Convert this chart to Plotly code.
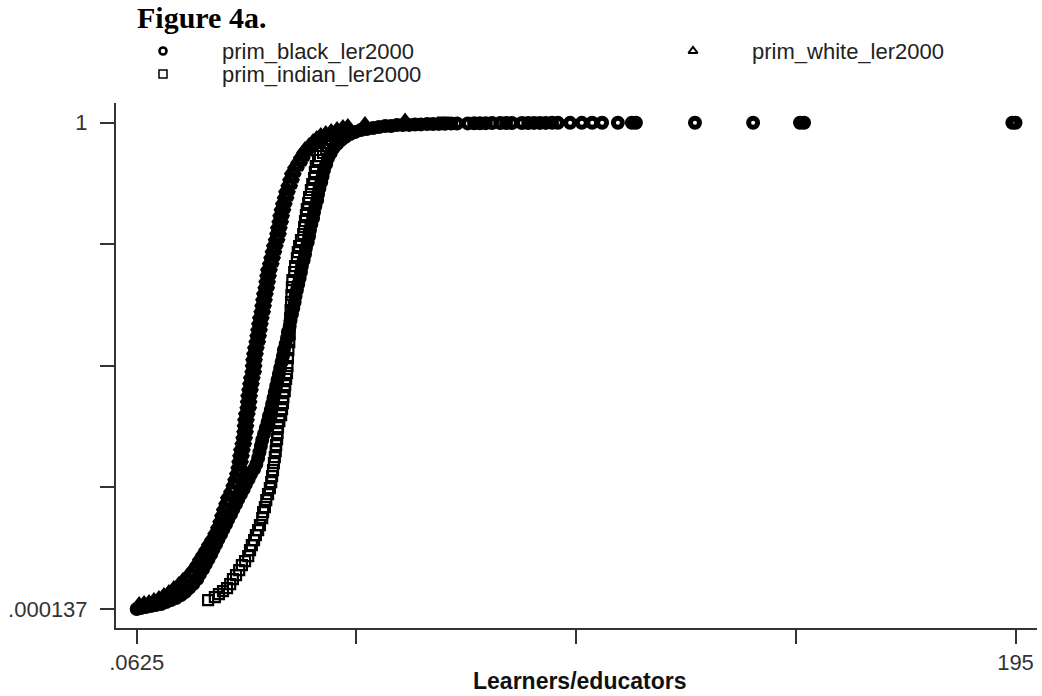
import plotly.graph_objects as go

# Cumulative share of schools (y) against learners per educator (x), 2000 primary schools
black_x = [0.0625, 1.0, 2.1, 3.2, 4.3, 5.5, 6.6, 7.7, 8.8, 9.9,
           10.8, 11.7, 12.6, 13.5, 14.1, 14.8, 15.4, 16.0, 16.6, 17.1,
           17.7, 18.2, 18.8, 19.3, 19.9, 20.4, 21.0, 21.5, 22.1, 22.6,
           23.2, 23.8, 24.3, 24.9, 25.4, 26.1, 26.6, 27.0, 27.3, 27.6,
           27.9, 28.3, 28.7, 29.1, 29.4, 29.8, 30.1, 30.4, 30.7, 31.0,
           31.3, 31.6, 31.9, 32.2, 32.5, 32.7, 33.1, 33.4, 33.6, 34.0,
           34.2, 34.5, 34.8, 35.1, 35.3, 35.6, 35.9, 36.2, 36.5, 36.7,
           37.1, 37.4, 37.6, 38.0, 38.3, 38.5, 38.8, 39.2, 39.4, 39.7,
           40.1, 40.3, 40.6, 41.0, 41.3, 41.6, 42.1, 42.5, 43.1, 43.7,
           44.5, 45.4, 46.3, 47.4, 48.5, 49.8, 51.1, 52.5, 53.8, 55.2,
           56.5, 57.8, 59.1, 60.5, 61.8, 63.1, 64.5, 65.8, 67.1, 68.4,
           69.8, 71.1, 73.5, 74.9, 76.2, 77.5, 78.9, 80.7, 82.0, 83.3,
           85.5, 86.9, 88.2, 89.5, 90.8, 92.2, 93.5, 96.2, 98.8, 101.1,
           103.3, 106.8, 109.9, 110.8, 123.9, 136.8, 147.2, 148.1, 194.3, 195.0]
black_y = [0.000137, .0021, .0041, .0062, .0082, .0103, .0144, .0185, .0226, .0288,
           .0350, .0432, .0514, .0617, .0720, .0823, .0925, .1028, .1131, .1234,
           .1337, .1439, .1542, .1645, .1748, .1851, .1954, .2056, .2159, .2262,
           .2365, .2468, .2570, .2673, .2776, .2879, .2982, .3105, .3228, .3352,
           .3475, .3599, .3722, .3845, .3969, .4092, .4216, .4339, .4462, .4586,
           .4709, .4832, .4956, .5079, .5203, .5326, .5449, .5573, .5696, .5820,
           .5943, .6066, .6190, .6313, .6436, .6560, .6683, .6807, .6930, .7053,
           .7177, .7300, .7423, .7547, .7670, .7794, .7917, .8040, .8164, .8287,
           .8410, .8534, .8657, .8781, .8904, .9027, .9151, .9274, .9377, .9480,
           .9562, .9644, .9706, .9767, .9809, .9850, .9870, .9890, .9911, .9931,
           .9933, .9951, .9953, .9955, .9963, .9965, .9972, .9974, .9975, .9977,
           .9983, .9984, .9986, .9987, .9990, .9991, .9992, .9993, .99935, .9994,
           .99945, .9995, .99955, .9996, .99962, .99965, .99967, .9997, .99972, .99975,
           .99978, .9998, .99984, .99986, .9999, .99993, .99995, .99997, .99999, 1.0]

white_x = [0.6, 1.7, 2.8, 3.9, 5.0, 6.1, 7.2, 8.3, 9.4, 10.3,
           11.2, 12.1, 13.0, 13.7, 14.3, 15.0, 15.7, 16.3, 17.0, 17.7,
           18.3, 18.8, 19.2, 19.6, 20.1, 20.5, 21.2, 21.7, 22.1, 22.5,
           22.8, 23.0, 23.2, 23.4, 23.7, 23.9, 24.1, 24.2, 24.3, 24.5,
           24.8, 24.9, 25.0, 25.2, 25.4, 25.6, 25.9, 26.0, 26.1, 26.3,
           26.5, 26.8, 27.0, 27.2, 27.4, 27.6, 27.9, 28.1, 28.3, 28.5,
           28.8, 29.0, 29.2, 29.4, 29.8, 30.1, 30.4, 30.7, 31.1, 31.4,
           31.6, 31.9, 32.1, 32.4, 32.7, 33.1, 33.4, 33.9, 34.3, 34.7,
           35.4, 36.1, 36.7, 37.4, 38.3, 39.2, 40.0, 40.9, 42.0, 43.2,
           44.5, 45.8, 46.9, 50.7, 59.6]
white_y = [.0062, .0082, .0103, .0144, .0185, .0247, .0308, .0391, .0473, .0555,
           .0637, .0740, .0843, .0946, .1049, .1152, .1254, .1357, .1460, .1583,
           .1707, .1830, .1954, .2077, .2200, .2324, .2447, .2570, .2694, .2817,
           .2941, .3064, .3187, .3311, .3434, .3557, .3681, .3804, .3927, .4051,
           .4174, .4298, .4421, .4544, .4668, .4791, .4915, .5038, .5161, .5285,
           .5408, .5531, .5655, .5778, .5901, .6025, .6148, .6272, .6395, .6518,
           .6642, .6765, .6889, .7012, .7135, .7259, .7382, .7506, .7629, .7752,
           .7876, .7999, .8122, .8246, .8369, .8493, .8616, .8739, .8863, .8986,
           .9109, .9212, .9315, .9418, .9500, .9582, .9644, .9706, .9747, .9788,
           .9829, .9870, .9890, .9931, 1.0]

indian_x = [15.9, 17.4, 18.3, 19.2, 20.1, 20.8, 21.4, 22.1, 22.8, 23.4,
            24.1, 24.8, 25.2, 25.6, 26.1, 26.5, 27.0, 27.4, 27.9, 28.1,
            28.5, 28.8, 29.2, 29.6, 29.9, 30.1, 30.3, 30.5, 30.7, 30.9,
            31.0, 31.2, 31.3, 31.4, 31.7, 32.1, 32.3, 32.5, 32.6, 32.9,
            33.0, 33.2, 33.4, 33.5, 33.6, 33.7, 33.9, 34.0, 34.0, 34.1,
            34.2, 34.3, 34.4, 34.5, 34.6, 35.0, 35.2, 35.6, 35.8, 36.1,
            36.5, 37.0, 37.2, 37.4, 37.6, 37.8, 38.1, 38.3, 38.7, 39.0,
            39.4, 39.6, 39.8, 40.3, 40.7, 41.4, 42.1, 42.5, 42.9, 43.4,
            44.1, 44.5, 45.2, 68.0]
indian_y = [.0185, .0247, .0308, .0370, .0432, .0514, .0617, .0699, .0802, .0905,
            .0987, .1090, .1213, .1316, .1419, .1522, .1625, .1727, .1871, .1995,
            .2097, .2241, .2365, .2488, .2612, .2735, .2858, .3002, .3126, .3249,
            .3372, .3496, .3619, .3743, .3866, .3989, .4113, .4236, .4359, .4483,
            .4606, .4730, .4853, .4997, .5161, .5326, .5490, .5655, .5819, .5984,
            .6148, .6313, .6457, .6621, .6765, .6930, .7053, .7218, .7341, .7465,
            .7588, .7711, .7855, .7979, .8102, .8225, .8349, .8472, .8616, .8739,
            .8863, .8986, .9109, .9233, .9315, .9377, .9459, .9521, .9582, .9644,
            .9706, .9767, .9829, 1.0]

series_names = ["prim_black_ler2000", "prim_white_ler2000", "prim_indian_ler2000"]

x_tick_vals = [0.0625, 48.796875, 97.53125, 146.265625, 195.0]
x_tick_text = [".0625", "", "", "", "195"]
y_tick_vals = [0.000137, 0.250103, 0.500068, 0.750034, 1.0]
y_tick_text = [".000137", "", "", "", "1"]

AXIS_COLOR = "#333333"
SANS = "Liberation Sans, Arial, sans-serif"

# Plot symbols: heavy outlines so dense runs merge into solid bands
black_marker = dict(symbol="circle-open", size=9, color="black",
                    line=dict(width=5, color="black"))
white_marker = dict(symbol="triangle-up-open", size=12, color="black",
                    line=dict(width=5, color="black"))
indian_marker = dict(symbol="square-open", size=10, color="black",
                     line=dict(width=2.2, color="black"))

# Smaller versions of the same symbols for the key
key_markers = [
    dict(symbol="circle-open", size=7, color="black", line=dict(width=2.6, color="black")),
    dict(symbol="triangle-up-open", size=8, color="black", line=dict(width=2, color="black")),
    dict(symbol="square-open", size=8, color="black", line=dict(width=1.5, color="black")),
]

fig = go.Figure()
fig.add_trace(go.Scatter(x=black_x, y=black_y, mode="markers", name=series_names[0],
                         marker=black_marker, showlegend=False))
fig.add_trace(go.Scatter(x=white_x, y=white_y, mode="markers", name=series_names[1],
                         marker=white_marker, showlegend=False))
fig.add_trace(go.Scatter(x=indian_x, y=indian_y, mode="markers", name=series_names[2],
                         marker=indian_marker, showlegend=False))

# Key above the plot: two columns, drawn on a helper axis pair measured in pixels
key_x = [163, 693, 163]
key_y = [51, 51, 74]
for kx, ky, km, nm in zip(key_x, key_y, key_markers, series_names):
    fig.add_trace(go.Scatter(x=[kx], y=[ky], mode="markers", marker=km,
                             xaxis="x2", yaxis="y2", showlegend=False,
                             cliponaxis=False, hoverinfo="skip"))
    fig.add_annotation(x=kx + 57, y=ky, xref="x2", yref="y2", text=nm,
                       showarrow=False, xanchor="left", yanchor="middle",
                       font=dict(family=SANS, size=22, color="#222222"))

fig.add_annotation(x=135, y=17, xref="x2", yref="y2", text="<b>Figure 4a.</b>",
                   showarrow=False, xanchor="left", yanchor="middle",
                   font=dict(family="Liberation Serif, Times New Roman, serif",
                             size=30, color="black"))

fig.add_annotation(x=0.5038, y=-0.0844, xref="paper", yref="paper",
                   text="<b>Learners/educators</b>", showarrow=False,
                   xanchor="center", yanchor="middle",
                   font=dict(family=SANS, size=23, color="#111111"))

axis_common = dict(showgrid=False, zeroline=False, showline=True,
                   linecolor=AXIS_COLOR, linewidth=2, ticks="outside",
                   ticklen=14, tickwidth=2, tickcolor=AXIS_COLOR,
                   tickfont=dict(family=SANS, size=22, color="#333333"))

fig.update_layout(
    width=1042, height=696,
    margin=dict(l=116, r=5, t=0, b=68),
    paper_bgcolor="white", plot_bgcolor="white",
    xaxis=dict(range=[-4.53, 199.77], domain=[0, 1], tickmode="array",
               tickvals=x_tick_vals, ticktext=x_tick_text, **axis_common),
    yaxis=dict(range=[-0.0389, 1.0405], domain=[0, 0.83599], tickmode="array",
               tickvals=y_tick_vals, ticktext=y_tick_text,
               ticklabelstandoff=8, **axis_common),
    xaxis2=dict(range=[116, 1037], domain=[0, 1], visible=False,
                anchor="y2", fixedrange=True),
    yaxis2=dict(range=[103, 0], domain=[0.83599, 1], visible=False,
                anchor="x2", fixedrange=True),
    showlegend=False,
)

fig.write_html("out.html")
